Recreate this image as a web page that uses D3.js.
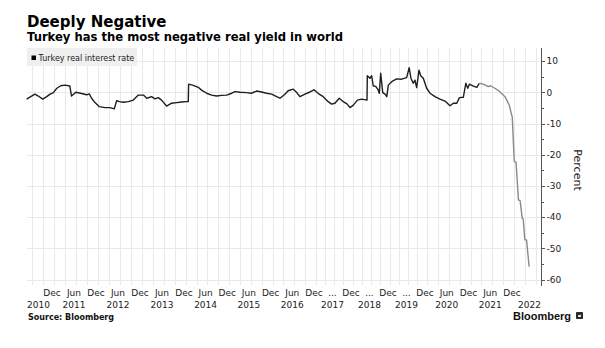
<!DOCTYPE html>
<meta charset="utf-8">
<title>Deeply Negative</title>
<style>

body {
  margin: 0;
  background: #fff;
}

svg {
  font-family: "DejaVu Sans", sans-serif;
}

.grid line {
  stroke: #e9e9e9;
  stroke-width: 1px;
  shape-rendering: crispEdges;
}

.line {
  fill: none;
  stroke-width: 1.4px;
  stroke-linejoin: round;
}

.axis text {
  font-size: 9px;
  fill: #222;
}

.axis line {
  stroke: #555;
  shape-rendering: crispEdges;
}

</style>
<body>
<script src="https://d3js.org/d3.v7.min.js"></script>
<script>

var dates = [
  "2010-05-18", "2010-07-26", "2010-08-23", "2010-09-29", "2010-11-01", "2010-11-29", "2010-12-26",
  "2011-01-24", "2011-02-26", "2011-04-01", "2011-05-12", "2011-05-26", "2011-07-01", "2011-08-18",
  "2011-09-29", "2011-10-20", "2011-11-09", "2011-12-07",
  "2012-01-12", "2012-02-28", "2012-04-09", "2012-05-15", "2012-06-04", "2012-06-26", "2012-07-29",
  "2012-09-09", "2012-10-20", "2012-12-01",
  "2013-01-12", "2013-02-09", "2013-03-21", "2013-04-18", "2013-05-15", "2013-06-12", "2013-07-23",
  "2013-09-03", "2013-10-15", "2013-11-26",
  "2014-01-07", "2014-01-20", "2014-01-23", "2014-03-03", "2014-04-14", "2014-05-12", "2014-06-24",
  "2014-08-04", "2014-09-16", "2014-10-28", "2014-12-09",
  "2015-01-21", "2015-02-18", "2015-04-01", "2015-05-26", "2015-07-07", "2015-08-19", "2015-09-30",
  "2015-11-11", "2015-12-24",
  "2016-02-04", "2016-03-03", "2016-04-14", "2016-05-11", "2016-06-23", "2016-07-21", "2016-08-18",
  "2016-09-30", "2016-11-11", "2016-12-15",
  "2017-01-27", "2017-03-16", "2017-05-04", "2017-06-07", "2017-07-09", "2017-08-21", "2017-09-30",
  "2017-11-08", "2017-12-05",
  "2018-01-07", "2018-02-16", "2018-03-30", "2018-05-22", "2018-05-25", "2018-06-20", "2018-07-07",
  "2018-07-22", "2018-08-18", "2018-09-10", "2018-09-20", "2018-10-04", "2018-10-24", "2018-11-16",
  "2018-12-03", "2018-12-18",
  "2019-01-21", "2019-03-10", "2019-04-29", "2019-06-17", "2019-07-12", "2019-07-29", "2019-08-21",
  "2019-09-07", "2019-09-24", "2019-10-17", "2019-11-03", "2019-11-28", "2019-12-29",
  "2020-01-26", "2020-03-08", "2020-04-19", "2020-05-31", "2020-07-12", "2020-08-09", "2020-09-07",
  "2020-09-29", "2020-11-01", "2020-11-22", "2020-12-08", "2020-12-22",
  "2021-01-25", "2021-02-23", "2021-03-15", "2021-04-17", "2021-05-29", "2021-06-18", "2021-07-24",
  "2021-09-04", "2021-10-17", "2021-11-22", "2021-12-12", "2021-12-17",
  "2022-01-03", "2022-01-18", "2022-02-07", "2022-02-21", "2022-03-11", "2022-03-19", "2022-04-02",
  "2022-04-16", "2022-05-08"
];

var values = [
  -2.2, -0.6, -1.2, -2.2, -1.4, -0.6, -0.1,
  1.3, 2.1, 2.3, 2.0, -1.2, 0.0, -0.4,
  -0.8, -0.5, -1.9, -3.3,
  -4.6, -4.9, -4.9, -5.3, -2.7, -3.0, -3.2,
  -3.0, -2.5, -0.9,
  -0.9, -1.9, -1.4, -2.1, -1.7, -2.5, -4.4,
  -3.5, -3.3, -3.1,
  -3.0, -3.0, 2.6, 2.2, 1.6, 0.7, -0.3,
  -0.9, -1.2, -1.0, -0.9,
  -0.3, 0.2, 0.0, -0.1, -0.3, 0.4, 0.1,
  -0.3, -0.6,
  -1.4, -1.9, -0.6, 0.5, 1.0, 0.0, -1.4,
  -0.6, 0.1, 0.8,
  -0.4, -1.4, -3.0, -3.8, -3.5, -1.9, -3.0,
  -3.8, -4.9,
  -4.1, -2.5, -2.2, -2.5, 5.3, 4.5, 5.3,
  2.1, 1.8, 0.7, -0.3, 6.1, -0.1, -0.6,
  -1.4, 2.3,
  3.4, 4.3, 4.2, 4.7, 7.9, 4.5, 2.9,
  3.9, 1.5, 7.1, 5.3, 4.5, 1.3,
  -0.3, -1.4, -2.2, -2.8, -4.3, -3.5, -3.5,
  -1.7, -1.6, 2.9, 1.3, 2.6,
  2.0, 1.6, 2.9, 2.6, 1.8, 2.1, 1.3,
  0.2, -1.4, -4.1, -7.3, -7.8,
  -22.2, -22.4, -34.5, -34.7, -40.4, -40.6, -47.3,
  -47.3, -55.9
];

// the line turns grey from this point on
var greyFrom = "2021-03-15";

var monthTicks = [
  "2010-12-15",
  "2011-06-15", "2011-12-15", "2012-06-15", "2012-12-15", "2013-06-15", "2013-12-15",
  "2014-06-15", "2014-12-15", "2015-06-15", "2015-12-15", "2016-06-15", "2016-12-15",
  "2017-06-15", "2017-12-15", "2018-06-15", "2018-12-15", "2019-06-15", "2019-12-15",
  "2020-06-15", "2020-12-15", "2021-06-15", "2021-12-15"
];
var monthLabels = [
  "Dec",
  "Jun", "Dec", "Jun", "Dec", "Jun", "Dec",
  "Jun", "Dec", "Jun", "Dec", "Jun", "Dec",
  "...", "Dec", "...", "Dec", "...", "Dec",
  "Jun", "Dec", "Jun", "Dec"
];
var yearLabels = ["2010", "2011", "2012", "2013", "2014", "2015", "2016",
                  "2017", "2018", "2019", "2020", "2021", "2022"];

var yTicks = [10, 0, -10, -20, -30, -40, -50, -60];
var yMinorTicks = [5, -5, -15, -25, -35, -45, -55];

var width = 605,
    height = 348,
    plotLeft = 27,
    plotRight = 541,
    plotTop = 48,
    plotBottom = 285;

var parse = d3.timeParse("%Y-%m-%d");

var data = dates.map(function(d, i) { return {date: parse(d), value: values[i]}; });

// Bloomberg spaces this axis unevenly, so the time scale is polylinear
var x = d3.scaleTime()
    .domain([parse("2010-12-15"), parse("2013-12-15"), parse("2016-12-15"),
             parse("2019-12-15"), parse("2021-12-15")])
    .range([52, 184, 314, 425, 512]);

var y = d3.scaleLinear()
    .domain([-60, 10])
    .range([279.5, 61.1]);

var svg = d3.select("body").append("svg")
    .attr("width", width)
    .attr("height", height);

// grid
var grid = svg.append("g").attr("class", "grid");

var quarters = d3.timeMonth.every(3).range(parse("2010-06-01"), parse("2022-08-01"))
    .filter(function(d) { return x(d) > plotLeft && x(d) < plotRight - 2; });

grid.selectAll(".v")
    .data(quarters)
  .enter().append("line")
    .attr("class", "v")
    .attr("x1", function(d) { return Math.round(x(d)) + 0.5; })
    .attr("x2", function(d) { return Math.round(x(d)) + 0.5; })
    .attr("y1", plotTop)
    .attr("y2", plotBottom);

grid.selectAll(".h")
    .data(yTicks)
  .enter().append("line")
    .attr("class", "h")
    .attr("x1", plotLeft)
    .attr("x2", plotRight)
    .attr("y1", function(d) { return Math.round(y(d)) + 0.5; })
    .attr("y2", function(d) { return Math.round(y(d)) + 0.5; });

// legend
svg.append("rect")
    .attr("x", 27)
    .attr("y", 48)
    .attr("width", 110)
    .attr("height", 18)
    .attr("fill", "#efefef");

svg.append("rect")
    .attr("x", 31.5)
    .attr("y", 55.5)
    .attr("width", 4.5)
    .attr("height", 4.5)
    .attr("fill", "#000");

svg.append("text")
    .attr("x", 38.5)
    .attr("y", 60.5)
    .attr("font-size", 8)
    .attr("fill", "#222")
    .text("Turkey real interest rate");

// line
var line = d3.line()
    .x(function(d) { return x(d.date); })
    .y(function(d) { return y(d.value); });

var split = parse(greyFrom);

svg.append("path")
    .datum(data.filter(function(d) { return d.date <= split; }))
    .attr("class", "line")
    .attr("stroke", "#1e1e1e")
    .attr("d", line);

svg.append("path")
    .datum(data.filter(function(d) { return d.date >= split; }))
    .attr("class", "line")
    .attr("stroke", "#8a8a8a")
    .attr("d", line);

// y axis on the right
var yAxis = svg.append("g")
    .attr("class", "axis")
    .attr("transform", "translate(" + (plotRight + 0.5) + ",0)");

yAxis.call(d3.axisRight(y)
    .tickValues(yTicks)
    .tickSize(3)
    .tickPadding(2)
    .tickFormat(function(d) { return String(d); }));

yAxis.call(function(g) {
  g.select(".domain").remove();
  g.selectAll(".tick text").attr("font-size", 9.5).attr("font-family", "DejaVu Sans");
});

yAxis.selectAll(".minor")
    .data(yMinorTicks)
  .enter().append("line")
    .attr("class", "minor")
    .attr("x1", 0)
    .attr("x2", 2)
    .attr("y1", function(d) { return Math.round(y(d)) + 0.5; })
    .attr("y2", function(d) { return Math.round(y(d)) + 0.5; });

yAxis.append("line")
    .attr("x1", 0)
    .attr("x2", 0)
    .attr("y1", plotTop)
    .attr("y2", plotBottom + 1)
    .attr("stroke", "#555")
    .attr("stroke-width", 1.2);

svg.append("text")
    .attr("transform", "translate(574,170) rotate(90)")
    .attr("text-anchor", "middle")
    .attr("font-size", 11)
    .attr("fill", "#222")
    .text("Percent");

// x labels
var xAxis = svg.append("g").attr("class", "axis");

xAxis.selectAll(".month")
    .data(monthTicks)
  .enter().append("text")
    .attr("class", "month")
    .attr("x", function(d) { return x(parse(d)); })
    .attr("y", 295.5)
    .attr("text-anchor", "middle")
    .text(function(d, i) { return monthLabels[i]; });

xAxis.selectAll(".year")
    .data(yearLabels)
  .enter().append("text")
    .attr("class", "year")
    .attr("y", 307.5)
    .attr("text-anchor", "middle")
    .text(function(d) { return d; })
    .attr("x", function(d) {
      var half = this.getComputedTextLength() / 2,
          cx = x(parse(d + "-06-15"));
      return Math.max(plotLeft + half, Math.min(plotRight - half, cx));
    });

// titles
svg.append("text")
    .attr("x", 27)
    .attr("y", 26.5)
    .attr("font-size", 15)
    .attr("font-weight", "bold")
    .attr("fill", "#000")
    .text("Deeply Negative");

svg.append("text")
    .attr("x", 27)
    .attr("y", 40.5)
    .attr("font-size", 11.6)
    .attr("font-weight", "bold")
    .attr("fill", "#000")
    .text("Turkey has the most negative real yield in world");

svg.append("text")
    .attr("x", 28)
    .attr("y", 320)
    .attr("font-size", 8)
    .attr("font-weight", "bold")
    .attr("fill", "#111")
    .text("Source: Bloomberg");

svg.append("text")
    .attr("x", 513)
    .attr("y", 319.5)
    .attr("font-family", "Liberation Sans, Arial, sans-serif")
    .attr("font-size", 11)
    .attr("font-weight", "bold")
    .attr("fill", "#111")
    .text("Bloomberg");

svg.append("rect")
    .attr("x", 576)
    .attr("y", 312)
    .attr("width", 7)
    .attr("height", 7)
    .attr("rx", 0.8)
    .attr("fill", "#2a2a2a");

svg.append("path")
    .attr("d", "M578.2,317 L578.2,315.6 L579.5,314.4 L579.5,315.4 L580.8,314.6 L580.8,317 Z")
    .attr("fill", "#fff");

</script>
